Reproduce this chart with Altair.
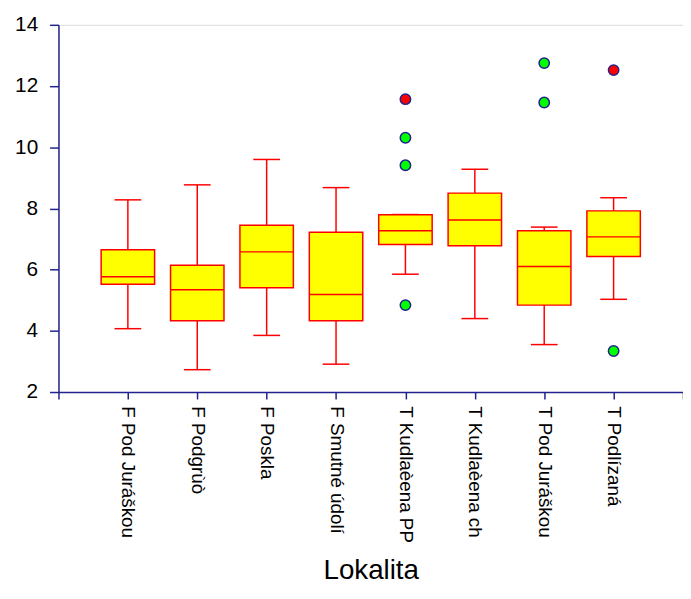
import json
import altair as alt
import pandas as pd

# ---- data ----
categories = ["F Pod Juráškou", "F Podgrùò", "F Poskla", "F Smutné údolí",
              "T Kudlaèena PP", "T Kudlaèena ch", "T Pod Juráškou", "T Podlízaná"]
whisker_low = [4.07, 2.73, 3.85, 2.91, 5.85, 4.40, 3.55, 5.03]
q1 = [5.52, 4.33, 5.41, 4.33, 6.82, 6.78, 4.84, 6.43]
median = [5.77, 5.34, 6.58, 5.19, 7.27, 7.62, 6.10, 7.07]
q3 = [6.65, 6.14, 7.45, 7.22, 7.79, 8.50, 7.27, 7.92]
whisker_high = [8.28, 8.77, 9.60, 8.68, 7.80, 9.28, 7.39, 8.35]

outlier_cat = [5, 5, 5, 5, 7, 7, 8, 8]
outlier_val = [11.57, 10.31, 9.41, 4.84, 12.75, 11.46, 12.52, 3.34]
outlier_kind = ["far", "near", "near", "near", "near", "near", "far", "near"]

x_ticks = list(range(0, 10))
y_ticks = list(range(2, 15))

# ---- tables ----
boxes = pd.DataFrame({
    "idx": list(range(1, len(categories) + 1)),
    "cat": categories,
    "low": whisker_low, "q1": q1, "med": median, "q3": q3, "high": whisker_high,
})
outs = pd.DataFrame({"idx": outlier_cat, "val": outlier_val, "kind": outlier_kind})

AXIS = "#22228C"
FONT = "Liberation Sans"

label_expr = ("datum.value >= 1 && datum.value <= %d ? %s[datum.value - 1] : ''"
              % (len(categories), json.dumps(categories, ensure_ascii=False)))

x_scale = alt.Scale(domain=[0, 9], nice=False, zero=False, padding=0)
y_scale = alt.Scale(domain=[2, 14], nice=False, zero=False, padding=0)

x_axis = alt.Axis(values=x_ticks, labelExpr=label_expr, title="Lokalita",
                  labelAngle=90, labelAlign="left", labelBaseline="middle",
                  labelFontSize=19, labelPadding=7, labelColor="black",
                  labelFlush=False, labelOverlap=False, labelFont=FONT,
                  tickSize=7, tickColor=AXIS, tickWidth=1.5,
                  domainColor=AXIS, domainWidth=1.5, grid=False,
                  titleFontSize=28, titleFontWeight="normal", titleFont=FONT,
                  titleColor="black", titleY=188, titleBaseline="alphabetic")
y_axis = alt.Axis(values=y_ticks, labelExpr="datum.value % 2 == 0 ? datum.label : ''",
                  title=None, labelFontSize=21, labelPadding=12, labelColor="black",
                  labelFont=FONT, labelFlush=False, labelOverlap=False,
                  tickSize=9, tickColor=AXIS, tickWidth=1.5,
                  domainColor=AXIS, domainWidth=1.5, grid=False)

base = alt.Chart(boxes)

whisker = base.mark_rule(color="#FF0000", strokeWidth=1.5).encode(
    x=alt.X("idx:Q", scale=x_scale, axis=x_axis),
    y=alt.Y("low:Q", scale=y_scale, axis=y_axis),
    y2="high:Q",
)
cap_low = base.mark_rule(color="#FF0000", strokeWidth=1.5, xOffset=-13.5, x2Offset=13.5).encode(
    x="idx:Q", x2="idx:Q", y="low:Q")
cap_high = base.mark_rule(color="#FF0000", strokeWidth=1.5, xOffset=-13.5, x2Offset=13.5).encode(
    x="idx:Q", x2="idx:Q", y="high:Q")
box = base.mark_bar(size=54, color="#FFFF00", stroke="#FF0000", strokeWidth=1.5).encode(
    x="idx:Q", y="q1:Q", y2="q3:Q")
med = base.mark_rule(color="#FF0000", strokeWidth=1.5, xOffset=-27, x2Offset=27).encode(
    x="idx:Q", x2="idx:Q", y="med:Q")

points = alt.Chart(outs).mark_point(filled=True, size=110, stroke=AXIS, strokeWidth=1.5,
                                    shape="circle", opacity=1).encode(
    x="idx:Q", y="val:Q",
    fill=alt.Fill("kind:N", scale=alt.Scale(domain=["far", "near"], range=["#FF0000", "#00FF00"]),
                  legend=None),
)

chart = alt.layer(whisker, cap_low, cap_high, box, med, points).properties(
    width=631, height=371,
    autosize=alt.AutoSizeParams(type="none"),
    padding={"left": 51, "top": 14, "right": 0, "bottom": 194},
).configure_view(stroke=None).configure(font=FONT)

chart.save("out.html", embed_options={"renderer": "svg", "actions": False})
